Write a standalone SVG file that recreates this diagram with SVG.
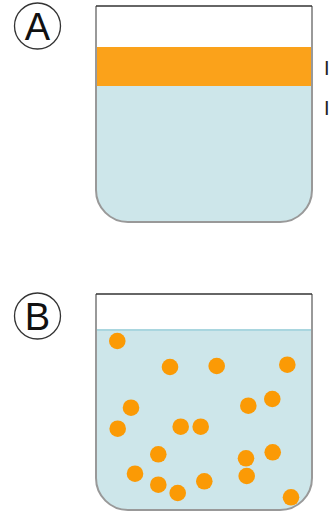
<svg xmlns="http://www.w3.org/2000/svg" width="333" height="511" viewBox="0 0 333 511">
<style>
.lbl{font-family:"Liberation Sans",Arial,sans-serif;font-size:38px;fill:#111;text-anchor:middle}
.ring{fill:none;stroke:#333;stroke-width:1.3}
.wall{fill:none;stroke:#999;stroke-width:2}
.rim{stroke:#333;stroke-width:1.5}
.liq{fill:#cde6ea}
.dot{fill:#fb9a05}
.tick{font-family:"Liberation Sans",Arial,sans-serif;font-size:20px;fill:#222}
</style>
<g id="labelA"><circle class="ring" cx="37.5" cy="26" r="23"/><text class="lbl" x="37.5" y="39.5">A</text></g>
<g id="beakerA">
<path class="liq" d="M96,86 H312 V190 A32,32 0 0 1 280,222 H128 A32,32 0 0 1 96,190 Z"/>
<rect x="96" y="47" width="216" height="39" fill="#fba21a"/>
<path class="wall" d="M96,6 V190 A32,32 0 0 0 128,222 H280 A32,32 0 0 0 312,190 V6"/>
<line class="rim" x1="96" y1="6" x2="312" y2="6"/>
</g>
<g id="tickI"><text class="tick" x="324" y="75">I</text></g>
<g id="tickII"><text class="tick" x="324" y="115">I</text></g>
<g id="labelB"><circle class="ring" cx="37.5" cy="316" r="23"/><text class="lbl" x="37.5" y="329.5">B</text></g>
<g id="beakerB">
<path class="liq" d="M96,330 H312 V478 A32,32 0 0 1 280,510 H128 A32,32 0 0 1 96,478 Z"/>
<line x1="96" y1="330" x2="312" y2="330" stroke="#a9d6df" stroke-width="2"/>
<g>
<circle class="dot" cx="117.3" cy="341" r="8.3"/>
<circle class="dot" cx="170" cy="367" r="8.3"/>
<circle class="dot" cx="216.7" cy="366" r="8.3"/>
<circle class="dot" cx="287.3" cy="364.7" r="8.3"/>
<circle class="dot" cx="131" cy="407.7" r="8.3"/>
<circle class="dot" cx="248.3" cy="405.7" r="8.3"/>
<circle class="dot" cx="272.3" cy="399" r="8.3"/>
<circle class="dot" cx="117.7" cy="428.7" r="8.3"/>
<circle class="dot" cx="180.7" cy="426.7" r="8.3"/>
<circle class="dot" cx="200.7" cy="426.7" r="8.3"/>
<circle class="dot" cx="158.3" cy="454.3" r="8.3"/>
<circle class="dot" cx="246" cy="458.3" r="8.3"/>
<circle class="dot" cx="272.7" cy="452.3" r="8.3"/>
<circle class="dot" cx="135" cy="473.7" r="8.3"/>
<circle class="dot" cx="158.3" cy="484.7" r="8.3"/>
<circle class="dot" cx="177.7" cy="493" r="8.3"/>
<circle class="dot" cx="204.3" cy="481.3" r="8.3"/>
<circle class="dot" cx="246.7" cy="476" r="8.3"/>
<circle class="dot" cx="291" cy="497.3" r="8.3"/>
</g>
<path class="wall" d="M96,294 V478 A32,32 0 0 0 128,510 H280 A32,32 0 0 0 312,478 V294"/>
<line class="rim" x1="96" y1="294" x2="312" y2="294"/>
</g>
</svg>
